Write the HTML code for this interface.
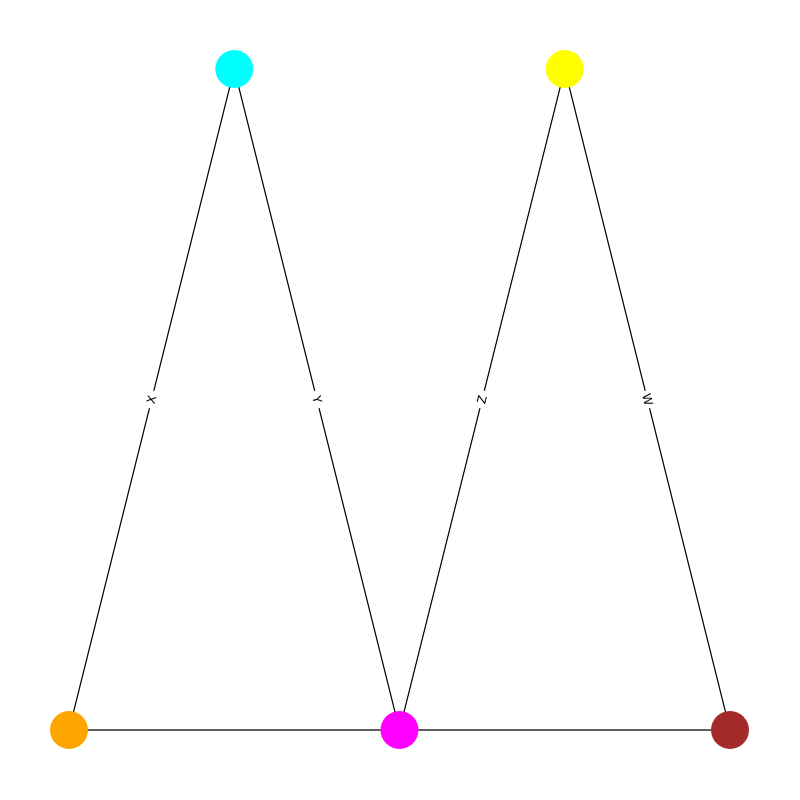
<!DOCTYPE html>
<html><head><meta charset="utf-8"><style>html,body{margin:0;padding:0;background:#fff}svg{display:block}</style></head>
<body>
<svg id="chart" width="800" height="800" viewBox="0 0 800 800" xmlns="http://www.w3.org/2000/svg"></svg>
<script>
const nodeNames = ["A","B","C","D","E"];
const nodeX = [0, 0.5, 1, 1.5, 2];
const nodeY = [0, 2, 0, 2, 0];
const nodeColors = ["orange","cyan","magenta","yellow","brown"];
const edgeFrom = [0,1,2,3,0,2];
const edgeTo = [1,2,3,4,2,4];
const edgeLabels = ["X","Y","Z","W","",""];

const svg = document.getElementById('chart');
const NS = "http://www.w3.org/2000/svg";
const sx = v => 69 + v * (730 - 69) / 2;
const sy = v => 730 - v * (730 - 69) / 2;

for (let i = 0; i < edgeFrom.length; i++) {
  const a = edgeFrom[i], b = edgeTo[i];
  const l = document.createElementNS(NS, 'line');
  
  
  l.setAttribute('x1', sx(nodeX[a])); l.setAttribute('y1', sy(nodeY[a]));
  l.setAttribute('x2', sx(nodeX[b])); l.setAttribute('y2', sy(nodeY[b]));
  l.setAttribute('stroke', '#000'); l.setAttribute('stroke-width', '1.2');
  svg.appendChild(l);
}
for (let i = 0; i < edgeFrom.length; i++) {
  if (!edgeLabels[i]) continue;
  const a = edgeFrom[i], b = edgeTo[i];
  const x1 = sx(nodeX[a]), y1 = sy(nodeY[a]), x2 = sx(nodeX[b]), y2 = sy(nodeY[b]);
  const mx = (x1 + x2) / 2, my = (y1 + y2) / 2;
  let ang = Math.atan2(y2 - y1, x2 - x1) * 180 / Math.PI;
  if (ang > 90) ang -= 180; if (ang < -90) ang += 180;
  const g = document.createElementNS(NS, 'g');
  
  
  g.setAttribute('transform', `translate(${mx},${my}) rotate(${ang})`);
  const r = document.createElementNS(NS, 'rect');
  r.setAttribute('x', -9); r.setAttribute('y', -8); r.setAttribute('width', 18); r.setAttribute('height', 16);
  r.setAttribute('fill', '#fff');
  g.appendChild(r);
  const t = document.createElementNS(NS, 'text');
  t.setAttribute('text-anchor', 'middle'); t.setAttribute('dominant-baseline', 'central');
  t.setAttribute('font-family', 'DejaVu Sans, Liberation Sans, sans-serif');
  t.setAttribute('font-size', '12'); t.setAttribute('fill', '#000');
  t.textContent = edgeLabels[i];
  g.appendChild(t);
  svg.appendChild(g);
}
for (let i = 0; i < nodeNames.length; i++) {
  const c = document.createElementNS(NS, 'circle');
  
  
  c.setAttribute('cx', sx(nodeX[i])); c.setAttribute('cy', sy(nodeY[i]));
  c.setAttribute('r', 19); c.setAttribute('fill', nodeColors[i] === 'brown' ? '#a52a2a' : nodeColors[i]);
  svg.appendChild(c);
}
</script>
</body></html>
